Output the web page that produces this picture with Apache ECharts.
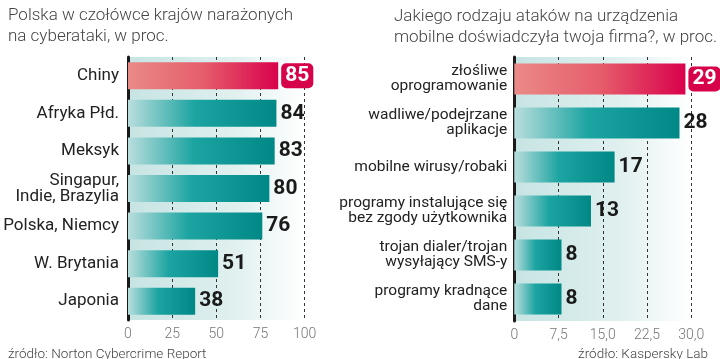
<!DOCTYPE html>
<html><head><meta charset="utf-8">
<script src="https://cdn.jsdelivr.net/npm/echarts@6/dist/echarts.min.js"></script>
<style>html,body{margin:0;padding:0;background:#fff}#c{width:720px;height:359px}</style>
</head><body><div id="c"></div>
<script>
const leftCategories = ['Chiny','Afryka Płd.','Meksyk','Singapur,\nIndie, Brazylia','Polska, Niemcy','W. Brytania','Japonia'];
const leftValues = [85,84,83,80,76,51,38];
const leftTicks = ['0','25','50','75','100'];
const rightCategories = ['złośliwe\noprogramowanie','wadliwe/podejrzane\naplikacje','mobilne wirusy/robaki','programy instalujące się\nbez zgody użytkownika','trojan dialer/trojan\nwysyłający SMS-y','programy kradnące\ndane'];
const rightValues = [29,28,17,13,8,8];
const rightTicks = ['0','7,5','15,0','22,5','30,0'];
const leftTitle = 'Polska w czołówce krajów narażonych\nna cyberataki, w proc.';
const rightTitle = 'Jakiego rodzaju ataków na urządzenia\nmobilne doświadczyła twoja firma?, w proc.';
const leftSource = 'źródło: Norton Cybercrime Report';
const rightSource = 'źródło: Kaspersky Lab';

const chart = echarts.init(document.getElementById('c'));
const FONT = 'Roboto, "Noto Sans", sans-serif';
const NUMFONT = 'Roboto, sans-serif';
const tealGrad = {type:'linear',x:0,y:0,x2:1,y2:0,colorStops:[{offset:0,color:'#b9dedd'},{offset:0.45,color:'#1ba4a1'},{offset:1,color:'#008886'}]};
const redGrad = {type:'linear',x:0,y:0,x2:1,y2:0,colorStops:[{offset:0,color:'#ea8a88'},{offset:0.5,color:'#e65d6b'},{offset:1,color:'#d9024c'}]};
const bgGrad = {type:'linear',x:0,y:0,x2:1,y2:0,colorStops:[{offset:0,color:'#c6e4e3'},{offset:0.6,color:'#e0f0ef'},{offset:1,color:'#ffffff'}]};

function mkData(vals){
  return vals.map((v,i)=> i===0 ? {
    value:v, itemStyle:{color:redGrad},
    label:{color:'#fff',backgroundColor:'#d6024a',borderRadius:5,padding:[3,4,1,4],distance:3}
  } : {value:v, itemStyle:{color:tealGrad}});
}
const valLabel = {show:true,position:'right',distance:4,fontFamily:NUMFONT,fontWeight:'bold',fontSize:21,color:'#1a1a1a'};

chart.setOption({
  animation:false,
  title:[
    {text:leftTitle,left:3,top:0,textStyle:{fontFamily:FONT,fontWeight:300,fontSize:17,lineHeight:21,color:'#444'}},
    {text:rightTitle,left:389,top:1,textStyle:{fontFamily:FONT,fontWeight:300,fontSize:17,lineHeight:21,color:'#444'}},
    {text:leftSource,left:3,top:343,textStyle:{fontFamily:FONT,fontWeight:300,fontSize:13.5,color:'#444'}},
    {text:rightSource,right:7,top:343,textStyle:{fontFamily:FONT,fontWeight:300,fontSize:13.5,color:'#444'}}
  ],
  grid:[
    {left:128,width:176.7,top:57,height:263,show:true,backgroundColor:bgGrad,borderWidth:0},
    {left:514.3,width:177,top:57,height:264,show:true,backgroundColor:bgGrad,borderWidth:0}
  ],
  xAxis:[
    {gridIndex:0,type:'value',min:0,max:100,interval:25,
     axisLine:{show:false},axisTick:{show:false},
     splitLine:{show:true,lineStyle:{type:[3,3],color:'#333',width:1}},
     axisLabel:{margin:7,fontFamily:FONT,fontWeight:300,fontSize:14,color:'#777',formatter:(v,i)=>leftTicks[i]}},
    {gridIndex:1,type:'value',min:0,max:30,interval:7.5,
     axisLine:{show:false},axisTick:{show:false},
     splitLine:{show:true,lineStyle:{type:[3,3],color:'#333',width:1}},
     axisLabel:{margin:7,fontFamily:FONT,fontWeight:300,fontSize:14,color:'#777',formatter:(v,i)=>rightTicks[i]}}
  ],
  yAxis:[
    {gridIndex:0,type:'category',inverse:true,data:leftCategories,
     axisLine:{show:true,lineStyle:{color:'#1a1a1a',width:3}},axisTick:{show:false},
     axisLabel:{margin:9,fontFamily:FONT,fontSize:17,lineHeight:16,color:'#222'}},
    {gridIndex:1,type:'category',inverse:true,data:rightCategories,
     axisLine:{show:true,lineStyle:{color:'#1a1a1a',width:3}},axisTick:{show:false},
     axisLabel:{margin:7,fontFamily:FONT,fontSize:15.5,lineHeight:15,color:'#222'}}
  ],
  series:[
    {type:'bar',xAxisIndex:0,yAxisIndex:0,barWidth:27,data:mkData(leftValues),label:valLabel,z:3},
    {type:'bar',xAxisIndex:1,yAxisIndex:1,barWidth:31,data:mkData(rightValues),label:valLabel,z:3}
  ]
});
</script></body></html>
